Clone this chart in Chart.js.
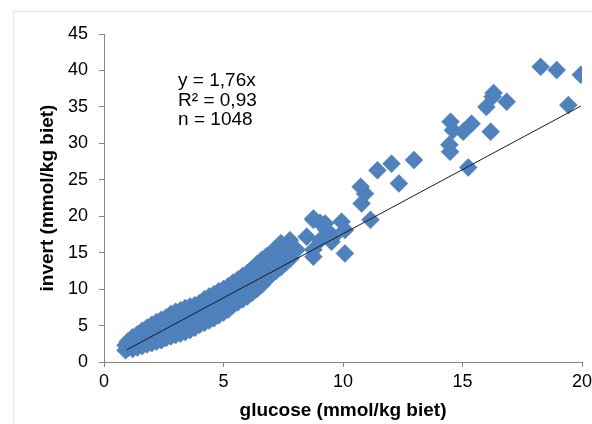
<!DOCTYPE html>
<html>
<head>
<meta charset="utf-8">
<script src="https://cdn.jsdelivr.net/npm/chart.js@4.4.1/dist/chart.umd.min.js"></script>
<style>
  html, body { margin: 0; padding: 0; background: #ffffff; }
  #wrap { width: 592px; height: 424px; position: relative; }
</style>
</head>
<body>
<div id="wrap"><canvas id="c" width="592" height="424"></canvas></div>
<script>
// Dense band of samples: each glucose value with the invert values measured at it
const bandGlucose = [0.9, 1.0, 1.2, 1.4, 1.6, 1.8, 2.0, 2.2, 2.4, 2.6, 2.8, 3.0, 3.2, 3.4, 3.6, 3.8,
  4.0, 4.2, 4.4, 4.6, 4.8, 5.0, 5.2, 5.4, 5.6, 5.8, 6.0, 6.2, 6.4, 6.6, 6.8, 7.0, 7.2, 7.4, 7.6, 7.8];
const bandInvert = [
  [1.6, 2.3], [1.9, 2.8], [1.8, 2.6, 3.4], [2.0, 2.9, 3.8], [2.2, 3.2, 4.3], [2.4, 3.5, 4.7],
  [2.6, 3.8, 5.1], [2.8, 4.0, 5.5], [3.0, 4.3, 5.8], [3.3, 4.6, 6.1], [3.5, 4.8, 6.0, 6.6],
  [3.7, 5.0, 6.2, 6.9], [3.9, 5.2, 6.4, 7.1], [4.1, 5.4, 6.6, 7.4], [4.4, 5.7, 6.8, 7.6],
  [4.7, 6.0, 7.0, 7.8], [5.1, 6.3, 7.3, 8.1], [5.4, 6.6, 7.7, 8.6], [5.7, 6.9, 8.0, 9.0],
  [6.0, 7.2, 8.3, 9.3], [6.4, 7.5, 8.7, 9.7], [6.8, 7.9, 9.0, 10.0], [7.2, 8.3, 9.4, 10.4],
  [7.8, 8.8, 9.9, 10.9], [8.2, 9.2, 10.3, 11.3], [8.6, 9.7, 10.8, 11.8], [9.0, 10.1, 11.2, 12.2],
  [9.5, 10.6, 11.7, 12.8], [10.0, 11.2, 12.3, 13.4], [10.6, 11.8, 12.9, 14.0], [11.3, 12.4, 13.5, 14.5],
  [12.0, 13.0, 14.0, 15.0], [12.5, 13.6, 14.6, 15.6], [13.0, 14.2, 15.2, 16.3], [13.6, 14.8, 16.0],
  [14.2, 15.4]
];

// Sparser samples at higher concentrations
const highGlucose = [7.64, 7.78, 8.06, 8.48, 8.76, 8.76, 9.04, 9.04, 9.31, 9.6, 8.76, 9.25, 9.94, 10.08,
  9.52, 8.76, 10.08, 10.78, 10.92, 10.74, 11.15, 11.44, 12.03, 12.97, 12.34,
  14.45, 14.48, 14.5, 15.38, 15.03, 14.6, 16.18, 15.24, 16.26, 16.0, 16.85, 16.3,
  18.27, 18.94, 19.95, 19.43];
const highInvert = [14.9, 16.7, 15.4, 17.2, 15.4, 19.7, 19.1, 16.7, 18.1, 17.2, 19.5, 19.0, 19.25, 18.1,
  16.5, 14.45, 14.9, 21.75, 23.1, 24.05, 19.5, 26.3, 27.2, 27.7, 24.5,
  29.8, 28.85, 32.96, 32.7, 31.6, 31.8, 31.6, 26.7, 36.4, 35.0, 35.7, 36.9,
  40.5, 40.05, 39.4, 35.25];

// Regression through the origin
const slope = 1.76;
const fitRange = [0.95, 19.95];
const statLines = ['y = 1,76x', 'R\u00B2 = 0,93', 'n = 1048'];

const xTitle = 'glucose (mmol/kg biet)';
const yTitle = 'invert (mmol/kg biet)';

const points = [];
bandGlucose.forEach((g, k) => bandInvert[k].forEach(v => points.push({ x: g, y: v })));
highGlucose.forEach((g, k) => points.push({ x: g, y: highInvert[k] }));
const fitLine = fitRange.map(g => ({ x: g, y: slope * g }));

const FONT = "'Liberation Sans', Arial, sans-serif";
const AXIS = '#868686';

const frame = {
  id: 'frame',
  beforeDraw(chart) {
    const ctx = chart.ctx;
    ctx.save();
    ctx.strokeStyle = '#e6e6e6';
    ctx.lineWidth = 1;
    ctx.strokeRect(13.5, 11.5, 620, 460);
    ctx.restore();
  }
};

const stats = {
  id: 'stats',
  afterDraw(chart) {
    const ctx = chart.ctx;
    const xs = chart.scales.x;
    const ys = chart.scales.y;
    ctx.save();
    ctx.fillStyle = '#000';
    ctx.font = '19px ' + FONT;
    ctx.textBaseline = 'alphabetic';
    ctx.textAlign = 'left';
    // anchored in data space, upper left of the plot
    const x0 = xs.getPixelForValue(3.1);
    const y0 = ys.getPixelForValue(37.8);
    statLines.forEach((t, k) => ctx.fillText(t, x0, y0 + k * 19.3));
    ctx.restore();
  }
};

new Chart(document.getElementById('c'), {
  type: 'scatter',
  data: {
    datasets: [
      {
        type: 'line',
        data: fitLine,
        borderColor: '#1a1a1a',
        borderWidth: 1,
        pointRadius: 0,
        fill: false,
        order: 0
      },
      {
        data: points,
        pointStyle: 'rectRot',
        pointRadius: 9,
        pointBackgroundColor: '#4F81BD',
        pointBorderColor: '#4F81BD',
        pointBorderWidth: 0.5,
        order: 1
      }
    ]
  },
  options: {
    responsive: false,
    animation: false,
    events: [],
    layout: { padding: { left: 33, right: 10, top: 34, bottom: 0 } },
    plugins: { legend: { display: false }, tooltip: { enabled: false } },
    scales: {
      x: {
        type: 'linear',
        min: 0, max: 20,
        afterFit(s) { s.height = 62; s.paddingRight = 0; s.paddingLeft = 0; },
        border: { display: true, color: AXIS, width: 1 },
        grid: { drawOnChartArea: false, drawTicks: true, tickLength: 5, color: AXIS },
        ticks: { stepSize: 5, padding: 4, color: '#000', font: { family: FONT, size: 18 } },
        title: { display: true, text: xTitle, color: '#000', padding: { top: 4, bottom: 2 },
                 font: { family: FONT, size: 19, weight: 'bold' } }
      },
      y: {
        type: 'linear',
        min: 0, max: 45,
        afterFit(s) { s.width = 71; s.paddingTop = 0; s.paddingBottom = 0; },
        border: { display: true, color: AXIS, width: 1 },
        grid: { drawOnChartArea: false, drawTicks: true, tickLength: 5, color: AXIS },
        ticks: { stepSize: 5, padding: 11, color: '#000', font: { family: FONT, size: 18 } },
        title: { display: true, text: yTitle, color: '#000', padding: { top: 3, bottom: 0 },
                 font: { family: FONT, size: 19, weight: 'bold' } }
      }
    }
  },
  plugins: [frame, stats]
});
</script>
</body>
</html>
